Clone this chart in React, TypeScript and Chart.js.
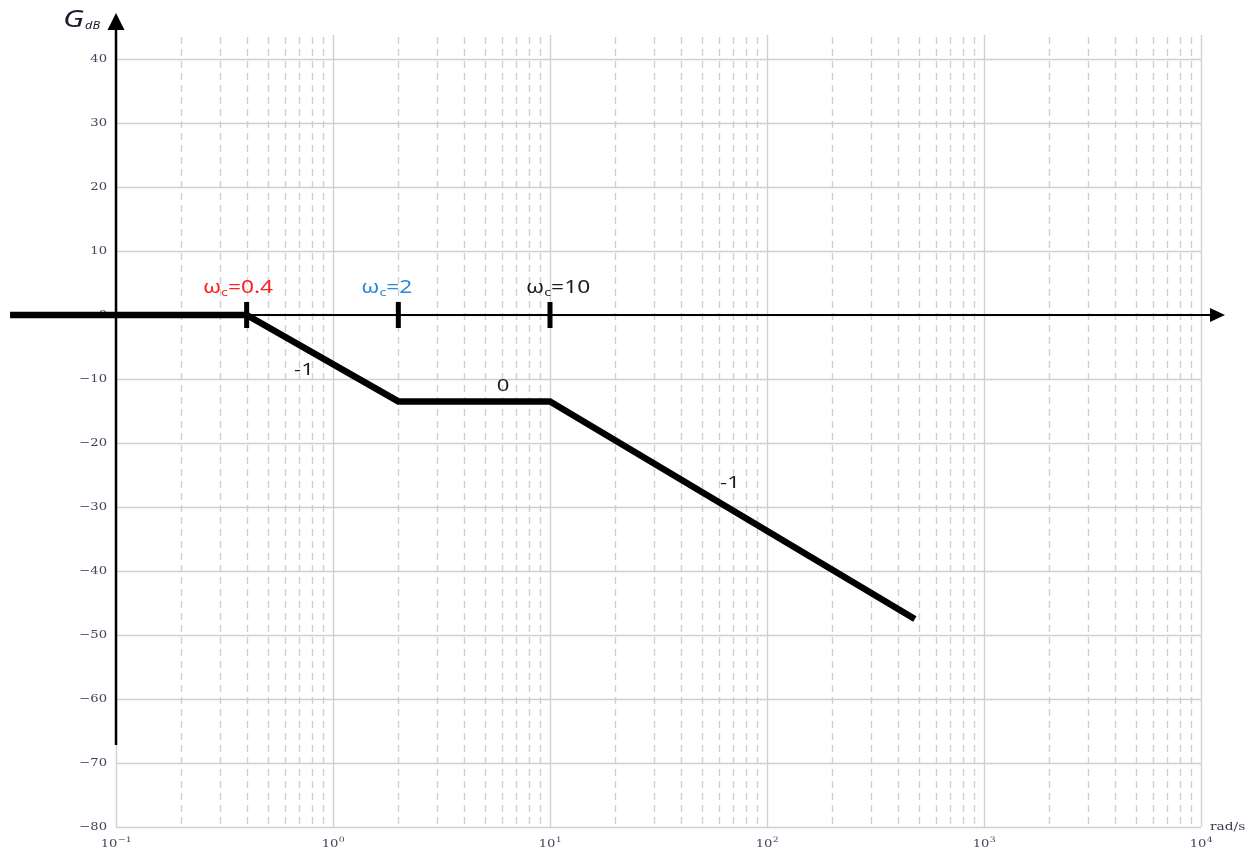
import { useEffect, useRef } from 'react';
import { Chart, registerables } from 'chart.js';

Chart.register(...registerables);

// Straight-line (asymptotic) gain curve: corner points in rad/s and dB
const omega = [0.0325, 0.4, 2, 10, 480];
const gainDb = [0, 0, -13.5, -13.5, -47.5];

// Corner frequencies with their labels
const cornerFreqs = [0.4, 2, 10];
const cornerTexts = ['0.4', '2', '10'];
const cornerColors = ['#ff1f1f', '#2f88d8', '#1e1e1e'];
const cornerLabelX = [0.365, 1.77, 10.9];
const cornerLabelY = [3.4, 3.4, 3.4];

// Slope annotations along the curve
const slopeTexts = ['-1', '0', '-1'];
const slopeX = [0.735, 6.07, 67.5];
const slopeY = [-8.6, -11.1, -26.2];

// Axis ticks
const decadeValues = [0.1, 1, 10, 100, 1000, 10000];
const decadeExponents = ['\u22121', '0', '1', '2', '3', '4'];
const minorMultipliers = [2, 3, 4, 5, 6, 7, 8, 9];
const yTickValues = [-80, -70, -60, -50, -40, -30, -20, -10, 0, 10, 20, 30, 40];
const axisBottomDb = -67.2;

const SX = 1.3; // horizontal stretch used for annotation text
const TICK_FONT = '10.5px "DejaVu Serif"';
const TICK_COLOR = '#44445e';

function stretchedText(ctx: CanvasRenderingContext2D, text: string, x: number, y: number, font: string, color: string, align: 'left' | 'center' | 'right', baseline: CanvasTextBaseline, sx = SX) {
  ctx.save();
  ctx.font = font;
  ctx.fillStyle = color;
  ctx.textBaseline = baseline;
  const w = ctx.measureText(text).width * sx;
  let left = x;
  if (align === 'center') left = x - w / 2;
  if (align === 'right') left = x - w;
  ctx.translate(left, y);
  ctx.scale(sx, 1);
  ctx.textAlign = 'left';
  ctx.fillText(text, 0, 0);
  ctx.restore();
  return w;
}

function textWidth(ctx: CanvasRenderingContext2D, text: string, font: string, sx = SX) {
  ctx.save();
  ctx.font = font;
  const w = ctx.measureText(text).width * sx;
  ctx.restore();
  return w;
}

function yLabel(v: number) {
  return v < 0 ? '\u2212' + Math.abs(v) : String(v);
}

const bodePlugin = {
  id: 'bodeDecor',
  beforeDatasetsDraw(chart: any) {
    const { ctx, chartArea: a } = chart;
    const xs = chart.scales.x;
    const ys = chart.scales.y;
    ctx.save();

    // horizontal grid
    ctx.strokeStyle = '#d0d0d0';
    ctx.lineWidth = 1.4;
    yTickValues.forEach((v) => {
      const py = Math.round(ys.getPixelForValue(v)) + 0.5;
      ctx.beginPath();
      ctx.moveTo(a.left, py);
      ctx.lineTo(a.right, py);
      ctx.stroke();
    });

    // vertical decade grid (solid)
    decadeValues.forEach((v) => {
      const px = Math.round(xs.getPixelForValue(v)) + 0.5;
      ctx.beginPath();
      ctx.moveTo(px, a.top);
      ctx.lineTo(px, a.bottom);
      ctx.stroke();
    });

    // vertical minor grid (dashed)
    ctx.setLineDash([7, 5]);
    ctx.strokeStyle = '#cfcfcf';
    decadeValues.slice(0, -1).forEach((d) => {
      minorMultipliers.forEach((m) => {
        const px = Math.round(xs.getPixelForValue(d * m)) + 0.5;
        ctx.beginPath();
        ctx.moveTo(px, a.top + 2);
        ctx.lineTo(px, a.bottom);
        ctx.stroke();
      });
    });
    ctx.setLineDash([]);

    // y tick labels
    yTickValues.forEach((v) => {
      const py = ys.getPixelForValue(v);
      stretchedText(ctx, yLabel(v), a.left - 9, py + 0.5, TICK_FONT, TICK_COLOR, 'right', 'middle', 1.25);
    });

    // x tick labels: 10 with exponent
    const expFont = '7.5px "DejaVu Serif"';
    decadeValues.forEach((v, i) => {
      const px = xs.getPixelForValue(v);
      const wBase = textWidth(ctx, '10', TICK_FONT, 1.25);
      const wExp = textWidth(ctx, decadeExponents[i], expFont, 1.25);
      const left = px - (wBase + wExp) / 2;
      stretchedText(ctx, '10', left, a.bottom + 20, TICK_FONT, TICK_COLOR, 'left', 'alphabetic', 1.25);
      stretchedText(ctx, decadeExponents[i], left + wBase + 0.5, a.bottom + 15, expFont, TICK_COLOR, 'left', 'alphabetic', 1.25);
    });

    // unit label
    stretchedText(ctx, 'rad/s', a.right + 9, a.bottom + 3, '11px "DejaVu Serif"', '#3a3a52', 'left', 'alphabetic', 1.25);

    // vertical axis with arrow
    const x0 = xs.getPixelForValue(0.1);
    const yTip = 13;
    ctx.strokeStyle = '#000';
    ctx.fillStyle = '#000';
    ctx.lineWidth = 2.5;
    ctx.beginPath();
    ctx.moveTo(x0, ys.getPixelForValue(axisBottomDb));
    ctx.lineTo(x0, yTip + 12);
    ctx.stroke();
    ctx.beginPath();
    ctx.moveTo(x0, yTip);
    ctx.lineTo(x0 - 8.5, yTip + 17);
    ctx.lineTo(x0 + 8.5, yTip + 17);
    ctx.closePath();
    ctx.fill();

    // horizontal 0 dB axis with arrow
    const y0 = ys.getPixelForValue(0);
    const xTip = a.right + 24;
    ctx.lineWidth = 2.2;
    ctx.beginPath();
    ctx.moveTo(10, y0);
    ctx.lineTo(xTip - 10, y0);
    ctx.stroke();
    ctx.beginPath();
    ctx.moveTo(xTip, y0);
    ctx.lineTo(xTip - 15, y0 - 7);
    ctx.lineTo(xTip - 15, y0 + 7);
    ctx.closePath();
    ctx.fill();

    ctx.restore();
  },
  afterDatasetsDraw(chart: any) {
    const { ctx } = chart;
    const xs = chart.scales.x;
    const ys = chart.scales.y;
    ctx.save();
    const y0 = ys.getPixelForValue(0);

    // corner frequency markers on the 0 dB axis
    ctx.fillStyle = '#000';
    cornerFreqs.forEach((f) => {
      const px = xs.getPixelForValue(f);
      ctx.fillRect(px - 2.5, y0 - 13, 5, 26);
    });

    // ω_c labels
    const bigFont = '17.5px "Noto Sans"';
    const subFont = '11px "Noto Sans"';
    cornerFreqs.forEach((_, i) => {
      const rest = '=' + cornerTexts[i];
      const wOmega = textWidth(ctx, '\u03c9', bigFont);
      const wSub = textWidth(ctx, 'c', subFont);
      const wRest = textWidth(ctx, rest, bigFont);
      const total = wOmega + wSub + wRest;
      const cx = xs.getPixelForValue(cornerLabelX[i]);
      const by = ys.getPixelForValue(cornerLabelY[i]);
      let left = cx - total / 2;
      stretchedText(ctx, '\u03c9', left, by, bigFont, cornerColors[i], 'left', 'alphabetic');
      left += wOmega;
      stretchedText(ctx, 'c', left, by + 3, subFont, cornerColors[i], 'left', 'alphabetic');
      left += wSub;
      stretchedText(ctx, rest, left, by, bigFont, cornerColors[i], 'left', 'alphabetic');
    });

    // slope labels
    slopeTexts.forEach((t, i) => {
      stretchedText(ctx, t, xs.getPixelForValue(slopeX[i]), ys.getPixelForValue(slopeY[i]), '17px "Noto Sans"', '#1e1e2a', 'center', 'middle');
    });

    // G_dB axis title
    const gFont = 'italic 23px "Noto Sans"';
    const gw = stretchedText(ctx, 'G', 63, 27, gFont, '#1b1b2e', 'left', 'alphabetic', 1.35);
    stretchedText(ctx, 'dB', 63 + gw + 1, 29, 'italic 11.5px "Noto Sans"', '#1b1b2e', 'left', 'alphabetic', 1.1);

    ctx.restore();
  },
};

export default function App() {
  const canvasRef = useRef<HTMLCanvasElement | null>(null);

  useEffect(() => {
    const canvas = canvasRef.current;
    if (!canvas) return;
    const chart = new Chart(canvas, {
      type: 'line',
      data: {
        datasets: [
          {
            data: omega.map((x, i) => ({ x, y: gainDb[i] })),
            borderColor: '#000',
            borderWidth: 6.5,
            pointRadius: 0,
            fill: false,
            tension: 0,
            clip: false as any,
            borderJoinStyle: 'miter',
            borderCapStyle: 'butt',
          },
        ],
      },
      options: {
        animation: false,
        responsive: true,
        maintainAspectRatio: false,
        events: [],
        layout: { padding: { top: 35, right: 56, left: 0, bottom: 0 } },
        plugins: { legend: { display: false }, tooltip: { enabled: false } },
        scales: {
          x: {
            type: 'logarithmic',
            min: 0.1,
            max: 10000,
            grid: { display: false },
            border: { display: false },
            ticks: { display: false },
            afterFit: (s: any) => {
              s.height = 28;
            },
          },
          y: {
            type: 'linear',
            min: -80,
            max: 43.75,
            grid: { display: false },
            border: { display: false },
            ticks: { display: false, stepSize: 10, includeBounds: false },
            afterFit: (s: any) => {
              s.width = 116;
            },
          },
        },
      } as any,
      plugins: [bodePlugin],
    });
    return () => chart.destroy();
  }, []);

  return (
    <div style={{ position: 'fixed', left: 0, top: 0, width: 1257, height: 855, background: '#fff' }}>
      <canvas ref={canvasRef} />
    </div>
  );
}
